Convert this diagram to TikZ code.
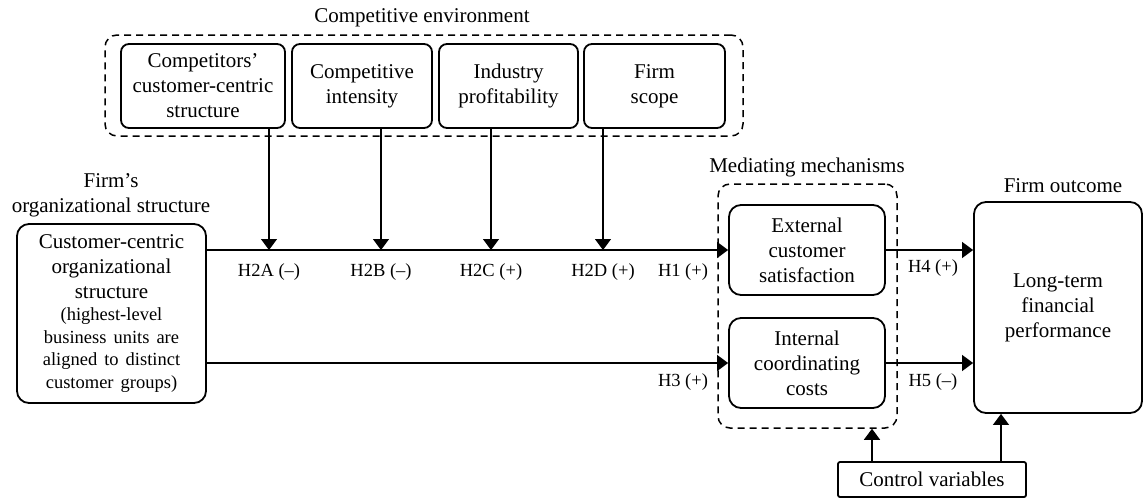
\documentclass[tikz,border=0pt]{standalone}
\usepackage{fontspec}
\setmainfont{Liberation Serif}
\usetikzlibrary{arrows.meta}
\begin{document}
\begin{tikzpicture}[x=1pt,y=-1pt,
  box/.style={draw, line width=1.8pt, rounded corners=8pt, align=center, inner sep=0pt, font=\fontsize{21}{25}\selectfont},
  grp/.style={draw, line width=1.5pt, dash pattern=on 7pt off 5pt, rounded corners=12pt, inner sep=0pt},
  arr/.style={line width=1.2pt, -{Triangle[length=11pt,width=16pt]}},
  ln/.style={line width=1.2pt},
  ttl/.style={font=\fontsize{21}{25}\selectfont, align=center, inner sep=0pt},
  lab/.style={font=\fontsize{18.5}{22}\selectfont, inner sep=0pt},
]
\useasboundingbox (0,0) rectangle (1146,501);

% competitive environment
\node[ttl] (envt) at (422,18) {Competitive environment};
\node[grp, minimum width=638pt, minimum height=101pt] (env) at (424,85.5) {};
\node[box, minimum width=164pt, minimum height=84pt] (b1) at (203,86) {Competitors’\\customer-centric\\structure};
\node[box, minimum width=140pt, minimum height=84pt] (b2) at (362,86) {Competitive\\intensity};
\node[box, minimum width=139pt, minimum height=84pt] (b3) at (508.5,86) {Industry\\profitability};
\node[box, minimum width=141pt, minimum height=84pt] (b4) at (654.5,86) {Firm\\scope};

% firm structure
\node[ttl] (fst) at (111,195) {Firm’s\\organizational structure};
\node[box, rounded corners=12pt, minimum width=189pt, minimum height=179pt, text width=185pt] (left) at (111.5,313.5)
  {\fontsize{21}{25}\selectfont Customer-centric\\organizational\\structure\par
   \fontsize{18.5}{22.5}\selectfont (highest-level\\business units are\\aligned to distinct\\customer groups)\par};

% mediating
\node[ttl] (medt) at (807,167) {Mediating mechanisms};
\node[grp, minimum width=179pt, minimum height=244pt] (med) at (807.5,306) {};
\node[box, rounded corners=12pt, minimum width=156pt, minimum height=90pt] (ext) at (807,250) {External\\customer\\satisfaction};
\node[box, rounded corners=12pt, minimum width=156pt, minimum height=90pt] (int) at (807,363) {Internal\\coordinating\\costs};

% outcome
\node[ttl] (outt) at (1063,186) {Firm outcome};
\node[box, rounded corners=12pt, minimum width=168pt, minimum height=211pt] (long) at (1058,307.5) {Long-term\\financial\\performance};

% control
\node[box, rounded corners=2pt, minimum width=188pt, minimum height=35pt] (ctrl) at (932,479.5) {Control variables};

% main connectors
\draw[arr] (ext.west -| left.east) -- (ext.west);
\draw[arr] (int.west -| left.east) -- (int.west);
\draw[arr] (ext.east) -- (ext.east -| long.west);
\draw[arr] (int.east) -- (int.east -| long.west);

% moderator arrows
\coordinate (m1) at (269,250);
\coordinate (m2) at (381,250);
\coordinate (m3) at (491,250);
\coordinate (m4) at (603,250);
\draw[arr] (b1.south -| m1) -- (m1);
\draw[arr] (b2.south -| m2) -- (m2);
\draw[arr] (b3.south -| m3) -- (m3);
\draw[arr] (b4.south -| m4) -- (m4);

% control arrows
\coordinate (c1) at (872,0);
\coordinate (c2) at (1001,0);
\draw[arr] (ctrl.north -| c1) -- (med.south -| c1);
\draw[arr] (ctrl.north -| c2) -- (long.south -| c2);

% labels
\node[lab] (h2a) at (269,272) {H2A (–)};
\node[lab] (h2b) at (381,272) {H2B (–)};
\node[lab] (h2c) at (491,272) {H2C (+)};
\node[lab] (h2d) at (603,272) {H2D (+)};
\node[lab] (h1) at (683,272) {H1 (+)};
\node[lab] (h3) at (683,382) {H3 (+)};
\node[lab] (h4) at (933,268) {H4 (+)};
\node[lab] (h5) at (933,382) {H5 (–)};
\end{tikzpicture}
\end{document}
